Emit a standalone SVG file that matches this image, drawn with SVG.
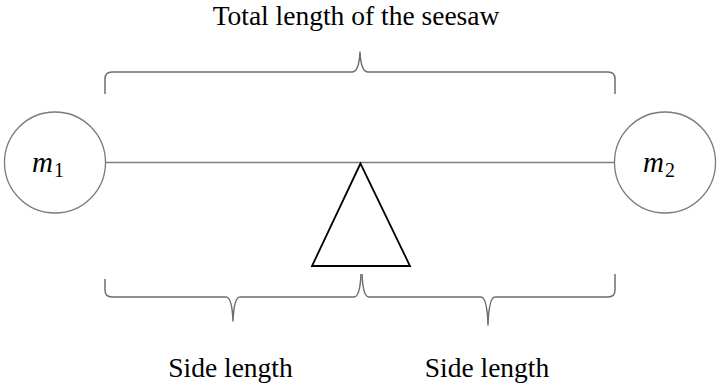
<svg xmlns="http://www.w3.org/2000/svg" width="718" height="383" viewBox="0 0 718 383">
<style>
.bg{fill:#ffffff}
.mass{fill:#ffffff;stroke:#7a7a7a;stroke-width:1.3}
.beam{stroke:#808080;stroke-width:1.5;fill:none}
.brace{stroke:#6e6e6e;stroke-width:1.5;fill:none;stroke-linejoin:round}
.pivot{fill:#ffffff;stroke:#000000;stroke-width:1.8;stroke-linejoin:miter}
.lbl{font-family:"Liberation Serif","Times New Roman",serif;font-size:27.5px;fill:#000000;text-anchor:middle}
.mvar{font-family:"Liberation Serif","Times New Roman",serif;font-style:italic;font-size:29px;fill:#000000}
.msub{font-family:"Liberation Serif","Times New Roman",serif;font-size:20px;fill:#000000}
</style>
<rect class="bg" x="0" y="0" width="718" height="383"/>
<g id="connectors">
<line class="beam" x1="105" y1="162.5" x2="615" y2="162.5"/>
<path id="brace-total" class="brace" d="M105,94 L105,79 Q105,72 112,72 L352,72 Q359,72 360,52 Q361,72 368,72 L608,72 Q615,72 615,79 L615,94"/>
<path id="brace-left" class="brace" d="M105,279 L105,290 Q105,297 112,297 L226,297 Q232,297 233,321 Q234,297 240,297 L354,297 Q360,297 361,274"/>
<path id="brace-right" class="brace" d="M362,274 Q363,297 369,297 L481,297 Q487,297 488,325 Q489,297 495,297 L608,297 Q615,297 615,290 L615,274"/>
</g>
<g id="mass1">
<circle class="mass" cx="55" cy="162.5" r="50.5"/>
<text x="32" y="171.5"><tspan class="mvar">m</tspan><tspan class="msub" dx="1" dy="5">1</tspan></text>
</g>
<g id="mass2">
<circle class="mass" cx="665" cy="162.5" r="50.5"/>
<text x="643" y="171.5"><tspan class="mvar">m</tspan><tspan class="msub" dx="1" dy="5">2</tspan></text>
</g>
<g id="pivot">
<polygon class="pivot" points="360.5,163.5 312,266 410,266"/>
</g>
<g id="label-total">
<text class="lbl" x="356" y="25">Total length  of the seesaw</text>
</g>
<g id="label-side-left">
<text class="lbl" x="230.5" y="376.5">Side length</text>
</g>
<g id="label-side-right">
<text class="lbl" x="487" y="376.5">Side length</text>
</g>
</svg>
